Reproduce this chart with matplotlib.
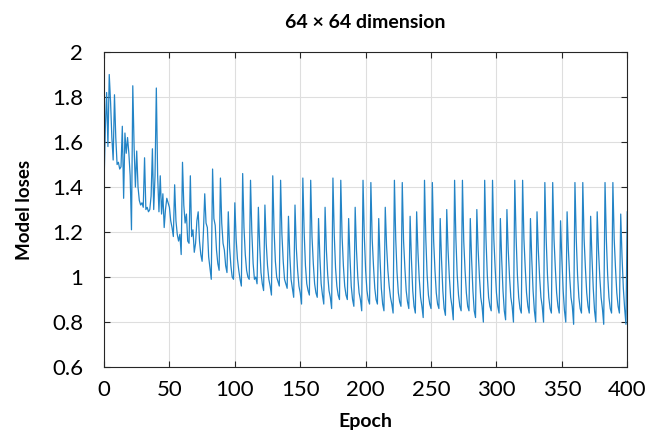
import numpy as np
import matplotlib
matplotlib.use('Agg')
import matplotlib.pyplot as plt
from matplotlib.ticker import FormatStrFormatter

# loss per epoch (epoch 0..400)
loss_start = [1.41, 1.66, 1.82, 1.58, 1.90, 1.78, 1.62, 1.52, 1.81, 1.62,
              1.50, 1.51, 1.48, 1.49, 1.67, 1.35, 1.64, 1.55, 1.62, 1.55,
              1.45, 1.21, 1.85, 1.58, 1.40, 1.56, 1.40, 1.34, 1.32, 1.33,
              1.31, 1.53, 1.30, 1.31, 1.29, 1.30, 1.36, 1.57, 1.30, 1.45,
              1.84, 1.45, 1.29, 1.45, 1.28, 1.37, 1.22, 1.30, 1.35, 1.33,
              1.31, 1.25, 1.22, 1.18, 1.41, 1.25, 1.19, 1.16, 1.19, 1.10,
              1.51, 1.32, 1.24, 1.28, 1.16, 1.15, 1.45, 1.18, 1.21, 1.11,
              1.15, 1.25, 1.29, 1.16, 1.10, 1.07, 1.20, 1.37, 1.24, 1.22,
              1.09, 1.04, 0.99]
loss_83 = [1.48, 1.26, 1.23, 1.12, 1.06, 1.03, 1.44, 1.24, 1.15, 1.12, 1.05, 1.02,
           1.29, 1.13, 1.05, 1.00, 0.99, 1.33, 1.17, 1.08, 1.03, 0.99, 0.96]
loss_106 = [1.46, 1.22, 1.10, 1.03, 1.00, 0.99, 1.43, 1.20, 1.06, 0.99, 1.00, 0.97,
            1.31, 1.14, 1.02, 0.97, 0.94, 1.32, 1.15, 1.05, 0.99, 0.96, 0.92]
loss_129 = [1.45, 1.21, 1.07, 1.00, 0.98, 0.96, 1.43, 1.19, 1.07, 0.99, 0.97, 0.95,
            1.27, 1.10, 0.99, 0.95, 0.91, 1.32, 1.13, 1.03, 0.96, 0.93, 0.88]
loss_152 = [1.44, 1.20, 1.05, 0.97, 0.94, 0.92, 1.43, 1.18, 1.06, 0.97, 0.93, 0.91,
            1.26, 1.09, 0.97, 0.92, 0.88, 1.31, 1.12, 1.01, 0.94, 0.91, 0.86]
loss_175 = [1.44, 1.19, 1.04, 0.96, 0.92, 0.90, 1.43, 1.18, 1.05, 0.96, 0.92, 0.90,
            1.26, 1.09, 0.96, 0.90, 0.87, 1.31, 1.12, 1.00, 0.93, 0.90, 0.85]
loss_198 = [1.43, 1.18, 1.03, 0.94, 0.90, 0.88, 1.42, 1.17, 1.05, 0.95, 0.90, 0.88,
            1.26, 1.08, 0.95, 0.88, 0.85, 1.31, 1.14, 1.03, 0.96, 0.91, 0.88, 0.84]
loss_222 = [1.43, 1.17, 1.02, 0.93, 0.89, 0.87, 1.42, 1.16, 1.04, 0.94, 0.89, 0.86,
            1.27, 1.08, 0.94, 0.87, 0.84, 1.29, 1.11, 0.99, 0.91, 0.87, 0.82]
loss_245 = [1.43, 1.17, 1.01, 0.92, 0.88, 0.86, 1.42, 1.16, 1.03, 0.93, 0.88, 0.86,
            1.26, 1.08, 0.94, 0.86, 0.83, 1.30, 1.12, 1.00, 0.91, 0.87, 0.81]
loss_268 = [1.43, 1.17, 1.01, 0.92, 0.87, 0.85, 1.43, 1.16, 1.03, 0.93, 0.87, 0.85,
            1.26, 1.08, 0.94, 0.85, 0.82, 1.30, 1.12, 1.00, 0.91, 0.87, 0.80]
loss_291 = [1.43, 1.17, 1.01, 0.91, 0.87, 0.85, 1.43, 1.17, 1.04, 0.93, 0.87, 0.84,
            1.26, 1.08, 0.94, 0.85, 0.81, 1.30, 1.12, 1.00, 0.91, 0.87, 0.80]
loss_314 = [1.43, 1.18, 1.01, 0.91, 0.86, 0.84, 1.43, 1.17, 1.04, 0.93, 0.87, 0.84,
            1.26, 1.08, 0.94, 0.85, 0.80, 1.29, 1.12, 1.00, 0.91, 0.87, 0.80]
loss_337 = [1.42, 1.17, 1.01, 0.91, 0.86, 0.84, 1.42, 1.17, 1.04, 0.93, 0.87, 0.84,
            1.25, 1.08, 0.94, 0.85, 0.80, 1.29, 1.12, 1.00, 0.91, 0.87, 0.79]
loss_360 = [1.42, 1.17, 1.01, 0.91, 0.86, 0.84, 1.42, 1.17, 1.04, 0.93, 0.87, 0.84,
            1.27, 1.09, 0.95, 0.85, 0.80, 1.29, 1.12, 1.00, 0.91, 0.86, 0.79]
loss_383 = [1.42, 1.17, 1.01, 0.91, 0.86, 0.84, 1.42, 1.17, 1.04, 0.93, 0.87, 0.84,
            1.28, 1.09, 0.95, 0.86, 0.79, 1.29]

loss = (loss_start + loss_83 + loss_106 + loss_129 + loss_152 + loss_175 + loss_198
        + loss_222 + loss_245 + loss_268 + loss_291 + loss_314 + loss_337 + loss_360 + loss_383)
epochs = np.arange(len(loss))

x_ticks = [0, 50, 100, 150, 200, 250, 300, 350, 400]
y_ticks = [0.6, 0.8, 1.0, 1.2, 1.4, 1.6, 1.8, 2.0]

plt.rcParams['font.family'] = ['Lato', 'DejaVu Sans']

fig = plt.figure(figsize=(6.46, 4.37), dpi=100)
ax = fig.add_axes([0.161, 0.160, 0.810, 0.721])
ax.plot(epochs, loss, color='#2384c6', linewidth=0.9)

ax.set_xlim(0, 400)
ax.set_ylim(0.6, 2.0)
ax.set_xticks(x_ticks)
ax.set_yticks(y_ticks)
ax.yaxis.set_major_formatter(FormatStrFormatter('%g'))
ax.grid(True, color='#dedede', linewidth=0.8)
ax.set_axisbelow(True)
ax.tick_params(direction='in', length=4, width=0.8, color='#262626',
               top=True, right=True, labelsize=16)
ax.tick_params(axis='x', pad=9)
ax.tick_params(axis='y', pad=15)
for s in ax.spines.values():
    s.set_color('#262626')
    s.set_linewidth(0.8)

ax.set_title('64 × 64 dimension', fontsize=14, fontweight='bold', pad=17)
ax.set_xlabel('Epoch', fontsize=14, fontweight='bold', labelpad=10)
ax.set_ylabel('Model loses', fontsize=13.5, fontweight='bold', labelpad=14)

fig.savefig('out.png', dpi=100)
